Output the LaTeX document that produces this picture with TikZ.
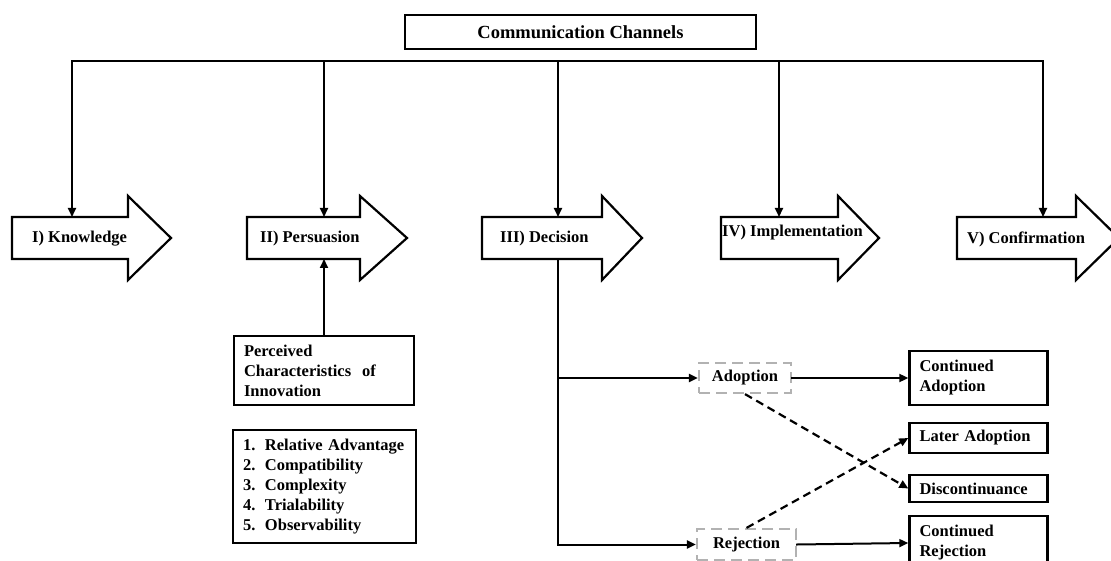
\documentclass[tikz,border=0pt]{standalone}
\usepackage{fontspec}
\setmainfont{Liberation Serif}
\usetikzlibrary{arrows.meta}
\begin{document}
\begin{tikzpicture}[x=1pt,y=-1pt, line join=miter, >={Triangle[length=9pt,width=8pt]},
    txt/.style={font=\fontsize{16.5}{20}\selectfont\bfseries, inner sep=0pt},
    stage/.style={draw, line width=2.2pt, fill=white},
    box/.style={draw, line width=2.4pt, txt, inner xsep=10pt, align=left},
    choice/.style={draw=black!30, line width=2.2pt, dash pattern=on 11pt off 6pt, txt},
    link/.style={->, line width=2pt, line cap=rect},
    cross/.style={->, line width=2.2pt, dash pattern=on 8pt off 5pt}]
    \useasboundingbox (0,0) rectangle (1111,561);
    % title and bus
    \node[draw, line width=2.4pt, minimum width=351pt, minimum height=34pt, inner sep=0pt,
        font=\fontsize{18.5}{22}\selectfont\bfseries] (comm) at (580.5,32) {Communication Channels};
    \coordinate (busw) at (72,61);
    % the five stages
    \foreach \n/\l/\h/\t/\d in {know/12/128/171/72, pers/247/360/407/324, deci/482/602/642/558,
        impl/721/838/879/779, conf/957/1076/1119/1043}{
        \draw[stage] (\l,217) -- (\h,217) -- (\h,196) -- (\t,238) -- (\h,280) -- (\h,259) -- (\l,259) -- cycle;
        \coordinate (\n-in) at (\d,217);
        \coordinate (\n-out) at (\d,259);
    }
    \node[txt, anchor=west] (know) at (32,239) {I) Knowledge};
    \node[txt, anchor=west] (pers) at (260,239) {II) Persuasion};
    \node[txt, anchor=west] (deci) at (500,239) {III) Decision};
    \node[txt, anchor=west] (impl) at (722,233) {IV) Implementation};
    \node[txt, anchor=west] (conf) at (967,239) {V) Confirmation};
    \draw[link] (conf-in |- busw) -- (busw) -- (know-in);
    \foreach \n in {pers,deci,impl,conf}
        \draw[link] (\n-in |- busw) -- (\n-in);
    % characteristics
    \node[box, text width=160pt, minimum height=69pt] (perc) at (324,370.5)
        {Perceived\\Characteristics\ \ of\\Innovation};
    \node[box, text width=163pt, minimum height=113pt] (attr) at (324.5,486.5)
        {\makebox[22pt][l]{1.}Relative Advantage\\
         \makebox[22pt][l]{2.}Compatibility\\
         \makebox[22pt][l]{3.}Complexity\\
         \makebox[22pt][l]{4.}Trialability\\
         \makebox[22pt][l]{5.}Observability};
    \draw[link] (perc.north) -- (pers-out);
    % decision outcomes
    \node[choice, minimum width=92pt, minimum height=30pt] (adopt) at (745,378) {Adoption};
    \node[choice, minimum width=99pt, minimum height=31pt] (rej) at (746.5,544.5) {Rejection};
    \node[box, text width=118pt, minimum height=54pt] (contadopt) at (978.5,378) {Continued\\Adoption};
    \node[box, text width=118pt, minimum height=30pt] (later) at (978.5,438) {Later Adoption};
    \node[box, text width=118pt, minimum height=27pt] (discont) at (978.5,488.5) {Discontinuance};
    \node[box, text width=118pt, minimum height=54pt] (contrej) at (978.5,543) {Continued\\Rejection};
    \draw[link] (deci-out) |- (rej.west);
    \draw[link] (deci-out |- adopt.west) -- (adopt.west);
    \draw[link] (adopt.east) -- (contadopt.west);
    \draw[link] (rej.east) -- (contrej.west);
    \draw[cross] (adopt.south) -- (discont.west);
    \draw[cross] (rej.north) -- (later.west);
\end{tikzpicture}
\end{document}
